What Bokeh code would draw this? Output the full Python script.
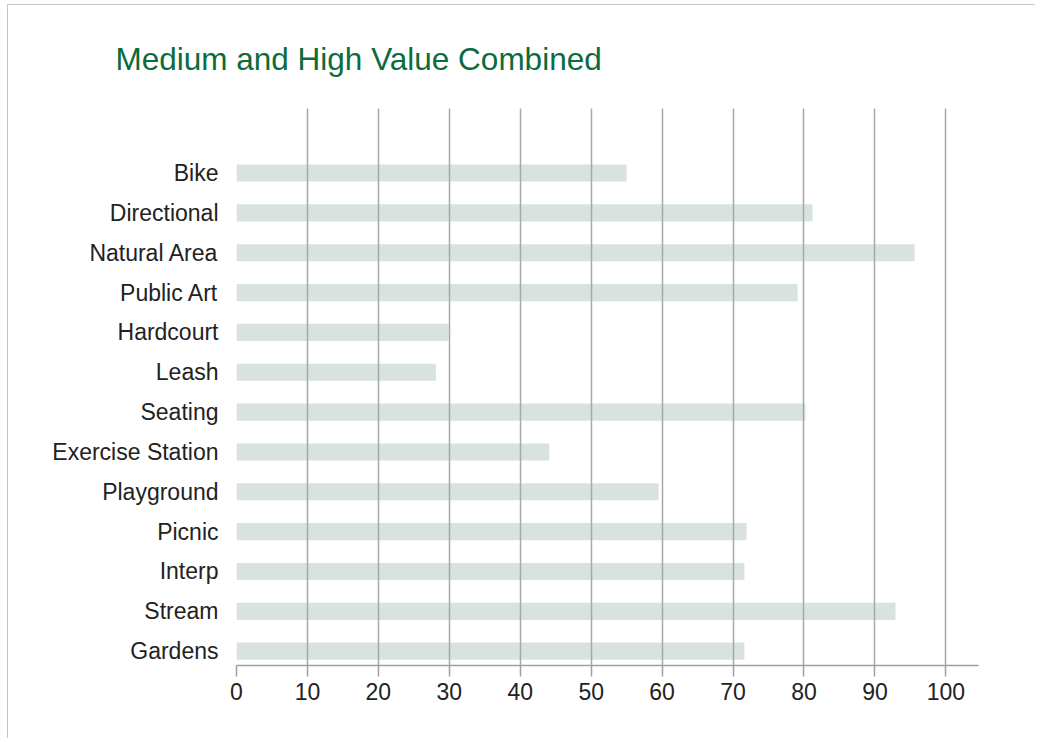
from bokeh.plotting import figure
from bokeh.models import ColumnDataSource, Range1d, FixedTicker
from bokeh.embed import file_html
from bokeh.resources import INLINE

# ---- data ----
categories = ["Bike", "Directional", "Natural Area", "Public Art", "Hardcourt",
              "Leash", "Seating", "Exercise Station", "Playground", "Picnic",
              "Interp", "Stream", "Gardens"]
values = [55.0, 81.2, 95.6, 79.1, 29.9, 28.1, 80.2, 44.1, 59.5, 71.9, 71.6, 92.9, 71.6]
x_ticks = [0, 10, 20, 30, 40, 50, 60, 70, 80, 90, 100]
title_text = "Medium and High Value Combined"

n = len(categories)
ypos = [n - 1 - i for i in range(n)]
src = ColumnDataSource(dict(cat=categories, val=values, y=ypos))

FONT = "Liberation Sans"

p = figure(width=1028, height=734,
           x_range=Range1d(0, 104.6), y_range=Range1d(-0.36, n - 1 + 1.62),
           output_backend="svg", toolbar_location=None,
           min_border_left=228, min_border_right=58,
           min_border_top=103, min_border_bottom=74,
           title=title_text)
p.styles = {"margin-left": "7px", "margin-top": "4px",
            "border-top": "1px solid #c4c4c4", "border-left": "1px solid #c4c4c4"}
p.outline_line_color = None
p.background_fill_color = "white"
p.border_fill_color = "white"

p.hbar(y="y", left=0, right="val", height=0.43, source=src,
       fill_color="#d9e3de", line_color=None)

# title
p.title.text_font = FONT
p.title.text_font_size = "31.5px"
p.title.text_font_style = "normal"
p.title.text_color = "#0b6b3d"
p.title.align = "left"
p.title.offset = -121
p.title.standoff = 63

# x axis
xt = FixedTicker(ticks=x_ticks)
p.xaxis.ticker = xt
p.xaxis.axis_line_color = "#a0a0a0"
p.xaxis.axis_line_width = 1.5
p.xaxis.major_tick_line_color = "#a0a0a0"
p.xaxis.major_tick_line_width = 1.5
p.xaxis.major_tick_out = 11
p.xaxis.major_tick_in = 0
p.xaxis.minor_tick_line_color = None
p.xaxis.major_label_text_font = FONT
p.xaxis.major_label_text_font_size = "23px"
p.xaxis.major_label_text_color = "#222222"
p.xaxis.major_label_standoff = 6

# y axis
p.yaxis.ticker = FixedTicker(ticks=ypos)
p.yaxis.major_label_overrides = {y: c for y, c in zip(ypos, categories)}
p.yaxis.axis_line_color = None
p.yaxis.major_tick_line_color = None
p.yaxis.minor_tick_line_color = None
p.yaxis.major_tick_out = 0
p.yaxis.major_label_standoff = 18
p.yaxis.major_label_text_font = FONT
p.yaxis.major_label_text_font_size = "23px"
p.yaxis.major_label_text_color = "#222222"

# grids
p.xgrid.ticker = xt
p.xgrid.grid_line_color = "#a8a8a8"
p.xgrid.grid_line_width = 1.5
p.xgrid.level = "overlay"
p.ygrid.visible = False

open("out.html", "w").write(file_html(p, INLINE))
